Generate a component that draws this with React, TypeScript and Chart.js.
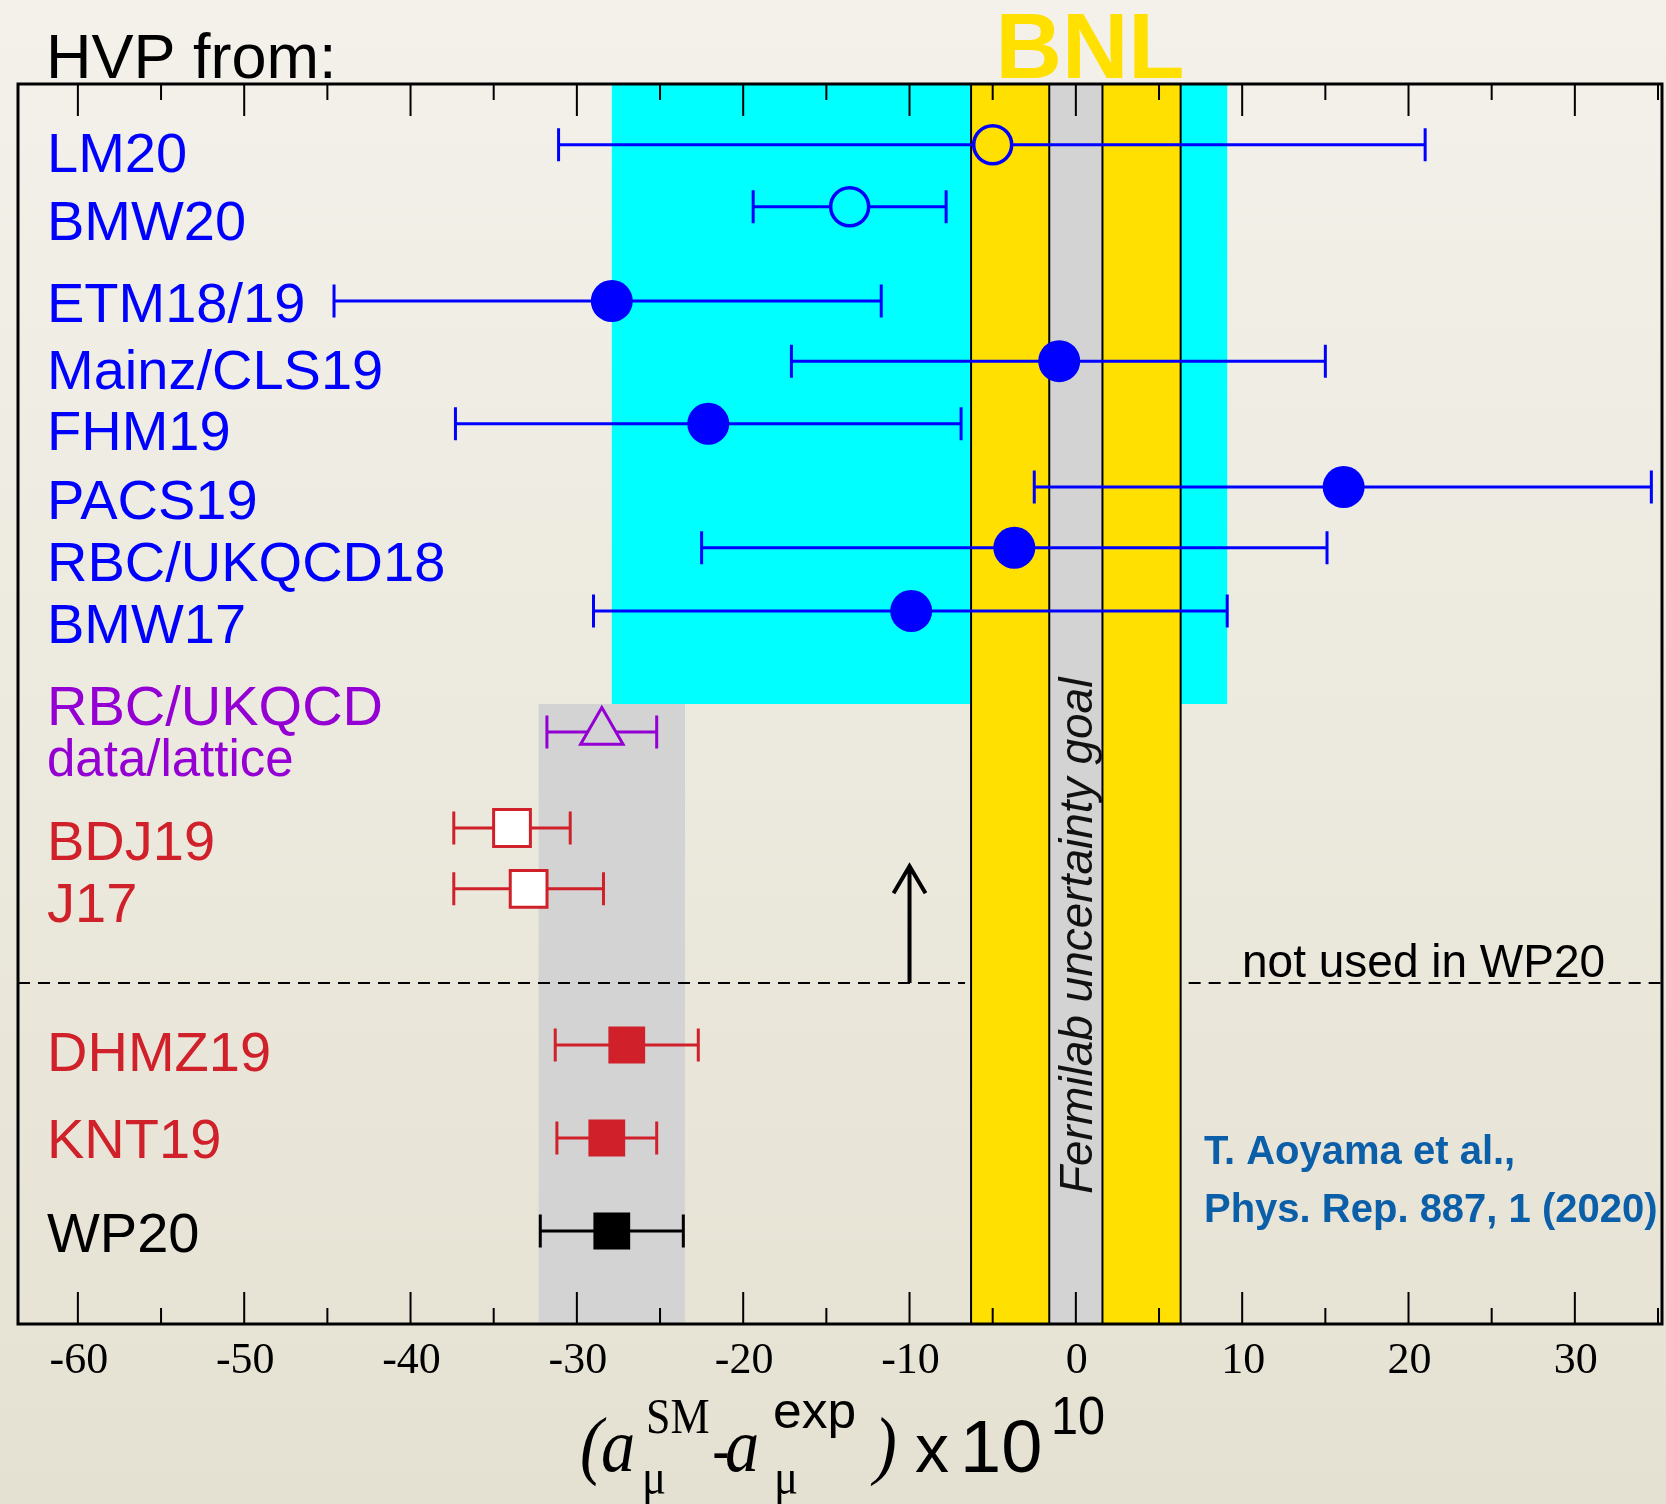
import React, { useEffect, useRef } from "react";
import { Chart, registerables } from "chart.js";
Chart.register(...registerables);

// ---------- data ----------
const names = ["LM20", "BMW20", "ETM18/19", "Mainz/CLS19", "FHM19", "PACS19", "RBC/UKQCD18", "BMW17", "RBC/UKQCD data/lattice", "BDJ19", "J17", "DHMZ19", "KNT19", "WP20"];
const centers = [-5.0, -13.6, -27.9, -1.0, -22.1, 16.1, -3.7, -9.9, -28.5, -33.9, -32.9, -27.0, -28.2, -27.9];
const lows = [-31.1, -19.4, -44.6, -17.1, -37.3, -2.5, -22.5, -29.0, -31.8, -37.4, -37.4, -31.3, -31.2, -32.2];
const highs = [21.0, -7.8, -11.7, 15.0, -6.9, 34.6, 15.1, 9.1, -25.2, -30.4, -28.4, -22.7, -25.2, -23.6];
const rows = [0.98, 1.98, 3.5, 4.47, 5.48, 6.5, 7.48, 8.5, 10.45, 12.0, 12.98, 15.5, 17.0, 18.5];
const markerKinds = ["oc", "oc", "fc", "fc", "fc", "fc", "fc", "fc", "ot", "os", "os", "fs", "fs", "fs"];
const groupOf = ["lat", "lat", "lat", "lat", "lat", "lat", "lat", "lat", "mix", "disp", "disp", "disp", "disp", "wp"];

const labelTexts = ["LM20", "BMW20", "ETM18/19", "Mainz/CLS19", "FHM19", "PACS19", "RBC/UKQCD18", "BMW17", "RBC/UKQCD", "data/lattice", "BDJ19", "J17", "DHMZ19", "KNT19", "WP20"];
const labelRows = [1.42, 2.52, 3.84, 4.92, 5.9, 7.02, 8.02, 9.02, 10.34, 11.16, 12.52, 13.52, 15.92, 17.32, 18.84];
const labelGroups = ["lat", "lat", "lat", "lat", "lat", "lat", "lat", "lat", "mix", "mixSmall", "disp", "disp", "disp", "disp", "wp"];

const cyanBandX = [-27.9, 9.1];
const cyanBandY = [0, 10];
const wpBandX = [-32.3, -23.5];
const wpBandY = [10, 20];
const bnlBandX = [-6.3, 6.3];
const fnalBandX = [-1.6, 1.6];
const dividerRow = [14.5];
const arrowX = [-10];
const arrowRows = [14.5, 12.6];

const majorTicks = [-60, -50, -40, -30, -20, -10, 0, 10, 20, 30];
const minorTicks = [-55, -45, -35, -25, -15, -5, 5, 15, 25, 35];
const tickLabels = ["-60", "-50", "-40", "-30", "-20", "-10", "0", "10", "20", "30"];

// ---------- styles ----------
const COLORS: Record<string, string> = {
  lat: "#0000FF",
  mix: "#9400D3",
  mixSmall: "#9400D3",
  disp: "#D0202A",
  wp: "#000000",
};
const SANS = "'Liberation Sans', Arial, sans-serif";
const SERIF = "'Liberation Serif', 'Times New Roman', serif";

function drawText(ctx: CanvasRenderingContext2D, s: string, x: number, y: number, font: string, color: string, align: CanvasTextAlign = "left", sx = 1) {
  ctx.save();
  ctx.font = font;
  ctx.fillStyle = color;
  ctx.textAlign = align;
  ctx.textBaseline = "alphabetic";
  ctx.translate(x, y);
  ctx.scale(sx, 1);
  ctx.fillText(s, 0, 0);
  ctx.restore();
}

const kindStyle: Record<string, any> = {
  oc: { pointStyle: "circle", radius: 19, borderWidth: 3.5, open: true, gap: 19 },
  fc: { pointStyle: "circle", radius: 21, borderWidth: 0, open: false, gap: 0 },
  ot: { pointStyle: "triangle", radius: 24.5, borderWidth: 3, open: true, gap: 14 },
  os: { pointStyle: "rect", radius: 26, borderWidth: 3, white: true, gap: 0 },
  fs: { pointStyle: "rect", radius: 26, borderWidth: 0, open: false, gap: 0 },
};

function buildDatasets() {
  const kinds = ["oc", "fc", "ot", "os", "fs"];
  return kinds.map((k) => {
    const idx = markerKinds.map((m, i) => (m === k ? i : -1)).filter((i) => i >= 0);
    const st = kindStyle[k];
    const cols = idx.map((i) => COLORS[groupOf[i]]);
    return {
      label: k,
      data: idx.map((i) => ({ x: centers[i], y: rows[i] })),
      pointStyle: st.pointStyle,
      pointRadius: st.radius,
      pointBorderWidth: st.borderWidth,
      pointBorderColor: cols,
      pointBackgroundColor: st.white ? "#FFFFFF" : st.open ? "rgba(0,0,0,0)" : cols,
      showLine: false,
      clip: false as any,
    };
  });
}

const backgroundPlugin = {
  id: "bgGradient",
  beforeDraw(chart: any) {
    const { ctx, width, height } = chart;
    const g = ctx.createLinearGradient(0, 0, 0, height);
    g.addColorStop(0, "#F3F1EA");
    g.addColorStop(1, "#E5E1D2");
    ctx.save();
    ctx.fillStyle = g;
    ctx.fillRect(0, 0, width, height);
    ctx.restore();
  },
};

const decorPlugin = {
  id: "decor",
  beforeDatasetsDraw(chart: any) {
    const { ctx, chartArea: ca } = chart;
    const xs = chart.scales.x;
    const ys = chart.scales.y;
    const px = (v: number) => xs.getPixelForValue(v);
    const py = (v: number) => ys.getPixelForValue(v);
    ctx.save();

    // cyan lattice band
    ctx.fillStyle = "#00FFFF";
    ctx.fillRect(px(cyanBandX[0]), py(cyanBandY[0]), px(cyanBandX[1]) - px(cyanBandX[0]), py(cyanBandY[1]) - py(cyanBandY[0]));
    // gray WP20 band
    ctx.fillStyle = "#D3D3D3";
    ctx.fillRect(px(wpBandX[0]), py(wpBandY[0]), px(wpBandX[1]) - px(wpBandX[0]), py(wpBandY[1]) - py(wpBandY[0]));

    // dashed divider (left and right of the BNL band)
    ctx.strokeStyle = "#000";
    ctx.lineWidth = 2;
    ctx.setLineDash([12, 8]);
    ctx.beginPath();
    ctx.moveTo(ca.left, py(dividerRow[0]));
    ctx.lineTo(px(bnlBandX[0]) - 6, py(dividerRow[0]));
    ctx.moveTo(px(bnlBandX[1]) + 8, py(dividerRow[0]));
    ctx.lineTo(ca.right, py(dividerRow[0]));
    ctx.stroke();
    ctx.setLineDash([]);

    // BNL yellow band
    ctx.fillStyle = "#FFE000";
    ctx.fillRect(px(bnlBandX[0]), ca.top, px(bnlBandX[1]) - px(bnlBandX[0]), ca.bottom - ca.top);
    // Fermilab goal band
    ctx.fillStyle = "#D3D3D3";
    ctx.fillRect(px(fnalBandX[0]), ca.top, px(fnalBandX[1]) - px(fnalBandX[0]), ca.bottom - ca.top);
    ctx.strokeStyle = "#000";
    ctx.lineWidth = 2;
    [bnlBandX[0], fnalBandX[0], fnalBandX[1], bnlBandX[1]].forEach((v) => {
      ctx.beginPath();
      ctx.moveTo(px(v), ca.top);
      ctx.lineTo(px(v), ca.bottom);
      ctx.stroke();
    });

    // Fermilab text
    ctx.save();
    ctx.translate(px(fnalBandX[1]) - 10, py(13.74));
    ctx.rotate(-Math.PI / 2);
    ctx.font = `italic 46px ${SANS}`;
    ctx.fillStyle = "#111";
    ctx.textAlign = "center";
    ctx.textBaseline = "alphabetic";
    ctx.fillText("Fermilab uncertainty goal", 0, 0);
    ctx.restore();

    // arrow
    const ax = px(arrowX[0]);
    const ay0 = py(arrowRows[0]);
    const ay1 = py(arrowRows[1]);
    ctx.strokeStyle = "#000";
    ctx.lineWidth = 4;
    ctx.beginPath();
    ctx.moveTo(ax, ay0);
    ctx.lineTo(ax, ay1);
    ctx.moveTo(ax - 16, ay1 + 28);
    ctx.lineTo(ax, ay1 + 1);
    ctx.lineTo(ax + 16, ay1 + 28);
    ctx.stroke();

    // ticks
    ctx.lineWidth = 2;
    ctx.strokeStyle = "#000";
    const tick = (v: number, len: number) => {
      const x = px(v);
      ctx.beginPath();
      ctx.moveTo(x, ca.top);
      ctx.lineTo(x, ca.top + len);
      ctx.moveTo(x, ca.bottom);
      ctx.lineTo(x, ca.bottom - len);
      ctx.stroke();
    };
    majorTicks.forEach((v) => tick(v, 32));
    minorTicks.forEach((v) => tick(v, 16));

    // frame
    ctx.lineWidth = 3;
    ctx.strokeRect(ca.left, ca.top, ca.right - ca.left, ca.bottom - ca.top);

    // tick labels
    majorTicks.forEach((v, i) => {
      drawText(ctx, tickLabels[i], px(v) + 1, 1373, `44px ${SERIF}`, "#000", "center");
    });

    // error bars
    names.forEach((_, i) => {
      const y = py(rows[i]);
      const xl = px(lows[i]);
      const xh = px(highs[i]);
      const xc = px(centers[i]);
      const gap = kindStyle[markerKinds[i]].gap;
      ctx.strokeStyle = COLORS[groupOf[i]];
      ctx.lineWidth = 3;
      ctx.beginPath();
      if (gap > 0) {
        ctx.moveTo(xl, y);
        ctx.lineTo(xc - gap, y);
        ctx.moveTo(xc + gap, y);
        ctx.lineTo(xh, y);
      } else {
        ctx.moveTo(xl, y);
        ctx.lineTo(xh, y);
      }
      ctx.moveTo(xl, y - 16.5);
      ctx.lineTo(xl, y + 16.5);
      ctx.moveTo(xh, y - 16.5);
      ctx.lineTo(xh, y + 16.5);
      ctx.stroke();
    });
    ctx.restore();
  },
  afterDraw(chart: any) {
    const { ctx } = chart;
    const xs = chart.scales.x;
    const ys = chart.scales.y;
    // left labels
    labelTexts.forEach((t, i) => {
      const g = labelGroups[i];
      const size = g === "mixSmall" ? 51 : 56;
      drawText(ctx, t, 47, ys.getPixelForValue(labelRows[i]), `${size}px ${SANS}`, COLORS[g]);
    });
    // header texts
    drawText(ctx, "HVP from:", 46, 78, `63px ${SANS}`, "#000");
    drawText(ctx, "BNL", xs.getPixelForValue(0.85), 78, `bold 92px ${SANS}`, "#FFE000", "center");
    drawText(ctx, "not used in WP20", 1242, 977, `46px ${SANS}`, "#000");
    drawText(ctx, "T. Aoyama et al.,", 1204, 1164, `bold 40px ${SANS}`, "#0B5EA8");
    drawText(ctx, "Phys. Rep. 887, 1 (2020)", 1204, 1222, `bold 40px ${SANS}`, "#0B5EA8");

    // axis title
    const k = "#000";
    drawText(ctx, "(", 580, 1470, `italic 76px ${SERIF}`, k, "left", 0.9);
    drawText(ctx, "a", 601, 1471, `italic 76px ${SERIF}`, k, "left", 0.9);
    drawText(ctx, "SM", 646, 1433, `50px ${SERIF}`, k, "left", 0.88);
    drawText(ctx, "\u03bc", 642, 1494, `50px ${SERIF}`, k, "left", 0.9);
    drawText(ctx, "-", 712, 1471, `60px ${SANS}`, k, "left", 0.9);
    drawText(ctx, "a", 725, 1471, `italic 76px ${SERIF}`, k, "left", 0.9);
    drawText(ctx, "\u03bc", 774, 1494, `50px ${SERIF}`, k, "left", 0.9);
    drawText(ctx, "exp", 773, 1428, `50px ${SANS}`, k, "left", 1.03);
    drawText(ctx, ")", 874, 1470, `italic 76px ${SERIF}`, k, "left", 0.9);
    drawText(ctx, "x", 915, 1472, `68px ${SANS}`, k, "left", 1);
    drawText(ctx, "10", 960, 1472, `74px ${SANS}`, k, "left", 1.0);
    drawText(ctx, "10", 1051, 1434, `54px ${SANS}`, k, "left", 0.9);
  },
};

export default function App() {
  const ref = useRef<HTMLCanvasElement>(null);
  useEffect(() => {
    document.body.style.margin = "0";
    const chart = new Chart(ref.current as HTMLCanvasElement, {
      type: "scatter",
      data: { datasets: buildDatasets() as any },
      options: {
        animation: false,
        responsive: false,
        maintainAspectRatio: false,
        events: [],
        layout: { autoPadding: false, padding: { left: 18, top: 84, right: 4, bottom: 180 } } as any,
        plugins: { legend: { display: false }, tooltip: { enabled: false } },
        scales: {
          x: { type: "linear", min: -63.6, max: 35.24, display: false },
          y: { type: "linear", min: 0, max: 20, reverse: true, display: false },
        },
      },
      plugins: [backgroundPlugin, decorPlugin],
    });
    return () => chart.destroy();
  }, []);
  return <canvas ref={ref} width={1666} height={1504} style={{ display: "block" }} />;
}
